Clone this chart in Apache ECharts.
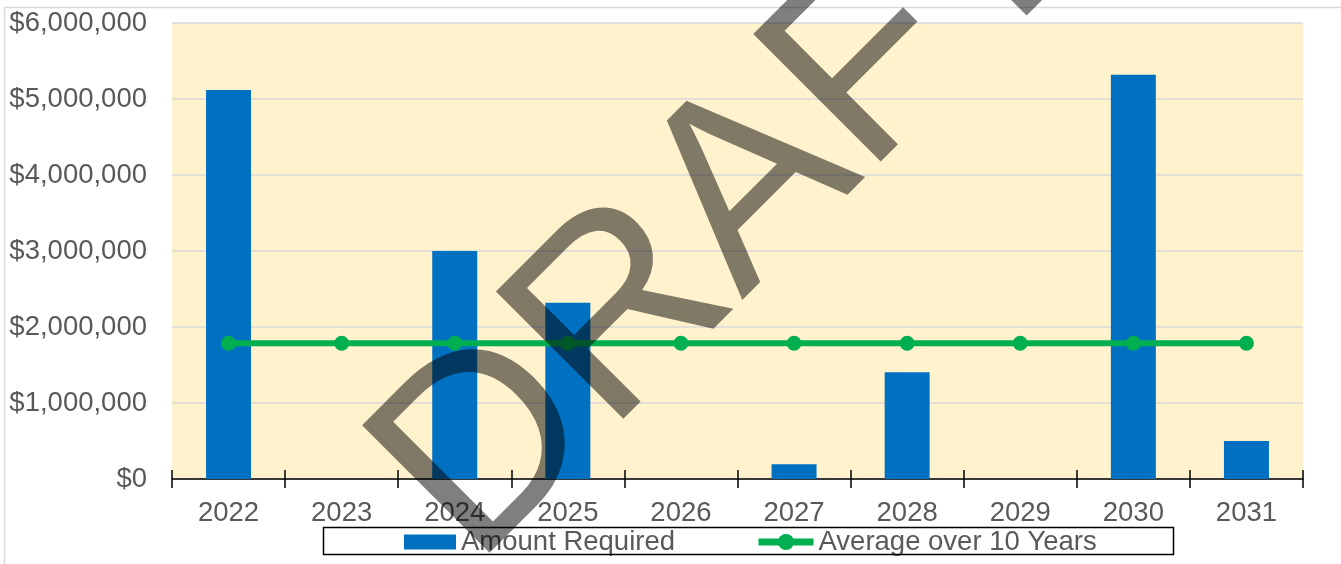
<!DOCTYPE html>
<html>
<head>
<meta charset="utf-8">
<script src="https://cdn.jsdelivr.net/npm/echarts@6/dist/echarts.min.js"></script>
<style>
  html, body { margin: 0; padding: 0; background: #ffffff; }
  #chart { width: 1341px; height: 564px; }
</style>
</head>
<body>
<div id="chart"></div>
<script>
// Funding schedule, 2022–2031
const years = ['2022', '2023', '2024', '2025', '2026', '2027', '2028', '2029', '2030', '2031'];
const amountRequired = [5118000, 0, 3000000, 2320000, 0, 193000, 1404000, 0, 5320000, 500000];
const averageOver10Years = [1785500, 1785500, 1785500, 1785500, 1785500, 1785500, 1785500, 1785500, 1785500, 1785500];
const yTicks = [0, 1000000, 2000000, 3000000, 4000000, 5000000, 6000000];

const FONT = '"Liberation Sans", Arial, sans-serif';
const TEXT_GREY = '#595959';

function money(v) {
  return '$' + Math.round(v).toString().replace(/\B(?=(\d{3})+(?!\d))/g, ',');
}

const chart = echarts.init(document.getElementById('chart'), null, { renderer: 'canvas' });

chart.setOption({
  animation: false,
  backgroundColor: '#ffffff',
  grid: {
    left: 172, right: 38, top: 23, bottom: 85,
    show: true, backgroundColor: '#fff2cc', borderWidth: 0
  },
  legend: [
    {
      data: [{ name: 'Amount Required', icon: 'rect' }],
      left: 404, top: 528, padding: 0,
      itemWidth: 52, itemHeight: 15,
      textStyle: { color: TEXT_GREY, fontSize: 27.5, fontFamily: FONT, lineHeight: 27 }
    },
    {
      data: ['Average over 10 Years'],
      left: 755, top: 528, padding: 0,
      itemWidth: 55, itemHeight: 20,
      lineStyle: { width: 7 },
      textStyle: { color: TEXT_GREY, fontSize: 27.5, fontFamily: FONT, lineHeight: 27 }
    }
  ],
  xAxis: [
    {
      type: 'category',
      data: years,
      axisLine: { show: true, lineStyle: { color: '#000000', width: 1.5 } },
      axisTick: { show: true, length: 9, lineStyle: { color: '#000000', width: 1.5 } },
      axisLabel: { color: TEXT_GREY, fontSize: 27.5, fontFamily: FONT, margin: 21, lineHeight: 27 },
      splitLine: { show: false }
    },
    {
      // second pass over the same categories: tick marks pointing up into the plot
      type: 'category',
      data: years,
      position: 'bottom',
      axisLine: { show: false },
      axisTick: { show: true, inside: true, length: 9, lineStyle: { color: '#000000', width: 1.5 } },
      axisLabel: { show: false },
      splitLine: { show: false }
    }
  ],
  yAxis: {
    type: 'value',
    min: yTicks[0],
    max: yTicks[yTicks.length - 1],
    interval: yTicks[1] - yTicks[0],
    axisLine: { show: false },
    axisTick: { show: false },
    axisLabel: { color: TEXT_GREY, fontSize: 27.5, fontFamily: FONT, margin: 25, formatter: money },
    splitLine: { show: true, lineStyle: { color: '#d9d9d9', width: 1.5 } }
  },
  series: [
    {
      name: 'Amount Required',
      type: 'bar',
      data: amountRequired,
      barWidth: 45,
      itemStyle: { color: '#0070c0', borderWidth: 0 }
    },
    {
      name: 'Average over 10 Years',
      type: 'line',
      data: averageOver10Years,
      symbol: 'circle',
      symbolSize: 15,
      lineStyle: { color: '#00b050', width: 6 },
      itemStyle: { color: '#00b050' }
    }
  ],
  graphic: [
    {
      type: 'rect',
      z: -10,
      shape: { x: 4.5, y: 7.5, width: 1400, height: 700 },
      style: { fill: 'none', stroke: '#d9d9d9', lineWidth: 1.5 }
    },
    {
      type: 'rect',
      z: 5,
      shape: { x: 323.5, y: 527.5, width: 850, height: 27 },
      style: { fill: 'none', stroke: '#000000', lineWidth: 1.5 }
    },
    {
      type: 'text',
      z: 100,
      x: 732, y: 208,
      rotation: Math.PI / 4,
      style: {
        text: 'DRAFT',
        font: '262px "Liberation Sans", Arial, sans-serif',
        fill: 'rgba(0,0,0,0.5)',
        textAlign: 'center',
        textVerticalAlign: 'middle'
      }
    }
  ]
});
</script>
</body>
</html>
